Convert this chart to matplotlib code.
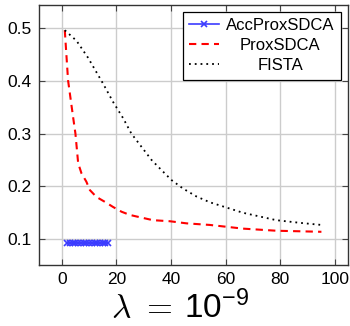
import numpy as np
import matplotlib.pyplot as plt
from matplotlib.offsetbox import TextArea, HPacker, AnchoredOffsetbox

plt.rcParams['font.family'] = ['Liberation Sans', 'DejaVu Sans']
plt.rcParams['mathtext.fontset'] = 'custom'
plt.rcParams['mathtext.rm'] = 'Liberation Sans'
plt.rcParams['mathtext.it'] = 'Liberation Sans:italic'

# data
acc_x = [2, 3, 4, 5, 6, 7, 8, 9, 10, 11, 12, 13, 14, 15, 16, 17]
acc_y = [0.092] * len(acc_x)

prox_x = [1.1, 2.3, 4.1, 5.0, 6.0, 7.2, 9.0, 10.3, 12.7, 15.7, 18.8, 21.9, 24.9,
          27.4, 33.4, 39.6, 45.7, 54.2, 66.4, 78.6, 95.1]
prox_y = [0.496, 0.401, 0.333, 0.300, 0.244, 0.225, 0.209, 0.193, 0.180, 0.171, 0.161,
          0.152, 0.146, 0.143, 0.136, 0.134, 0.130, 0.127, 0.120, 0.116, 0.114]

fista_x = [1.1, 5.4, 9.6, 15.1, 18.8, 22.5, 25.5, 29.2, 32.9, 36.5, 40.2, 44.4, 49.3,
           54.2, 60.3, 66.4, 72.5, 78.6, 87.2, 95.1]
fista_y = [0.496, 0.476, 0.444, 0.395, 0.360, 0.329, 0.300, 0.275, 0.250, 0.231, 0.212,
           0.196, 0.181, 0.170, 0.160, 0.150, 0.143, 0.136, 0.131, 0.127]

xticks = [0, 20, 40, 60, 80, 100]
yticks = [0.1, 0.2, 0.3, 0.4, 0.5]

fig = plt.figure(figsize=(3.5, 3.26), dpi=100)
ax = fig.add_axes([0.111, 0.187, 0.883, 0.798])

ax.plot(acc_x, acc_y, color='#3c3cff', lw=1.2, marker='x', ms=4, mew=1.2,
        label='AccProxSDCA')
ax.plot(prox_x, prox_y, color='red', lw=1.5, ls=(0, (3.5, 2.5)), label='ProxSDCA')
ax.plot(fista_x, fista_y, color='black', lw=1.3, ls=(0, (1, 2.2)), label='FISTA')

ax.set_xlim(-8.4, 104.8)
ax.set_ylim(0.051, 0.544)
ax.set_xticks(xticks)
ax.set_yticks(yticks)
ax.set_xticklabels([str(v) for v in xticks])
ax.set_yticklabels([f'{v:.1f}' for v in yticks])
ax.tick_params(direction='in', top=True, right=True, labelsize=12.5, length=4,
               width=0.8, color='#444444', pad=5)
ax.grid(True, color='#cccccc', lw=1.0)
ax.set_axisbelow(True)
for s in ax.spines.values():
    s.set_color('#333333')
    s.set_linewidth(1.0)

# title under the plot: CM lambda, sans-serif number
lam = TextArea(r'$\lambda\ =$', textprops=dict(fontsize=24, math_fontfamily='cm'))
num = TextArea(r'$10^{-9}$', textprops=dict(fontsize=24, math_fontfamily='custom'))
title = HPacker(children=[lam, num], align='baseline', pad=0, sep=9)
tbox = AnchoredOffsetbox(loc='lower center', child=title, frameon=False,
                         bbox_to_anchor=(0.514, 0.0), bbox_transform=fig.transFigure,
                         borderpad=0, pad=0.1)
fig.add_artist(tbox)

leg = ax.legend(loc='upper right', fontsize=12, frameon=True, fancybox=False,
                edgecolor='black', framealpha=1, borderaxespad=0.4,
                handlelength=1.8, handletextpad=0.4, labelspacing=0.3,
                borderpad=0.4, numpoints=1)
leg.get_frame().set_linewidth(0.9)

# centre the legend labels like pgfplots does
fig.canvas.draw()
r = fig.canvas.get_renderer()
ws = [t.get_window_extent(r).width for t in leg.get_texts()]
for t, w in zip(leg.get_texts(), ws):
    t.set_x((max(ws) - w) / 2)

fig.savefig('out.png', dpi=100)
